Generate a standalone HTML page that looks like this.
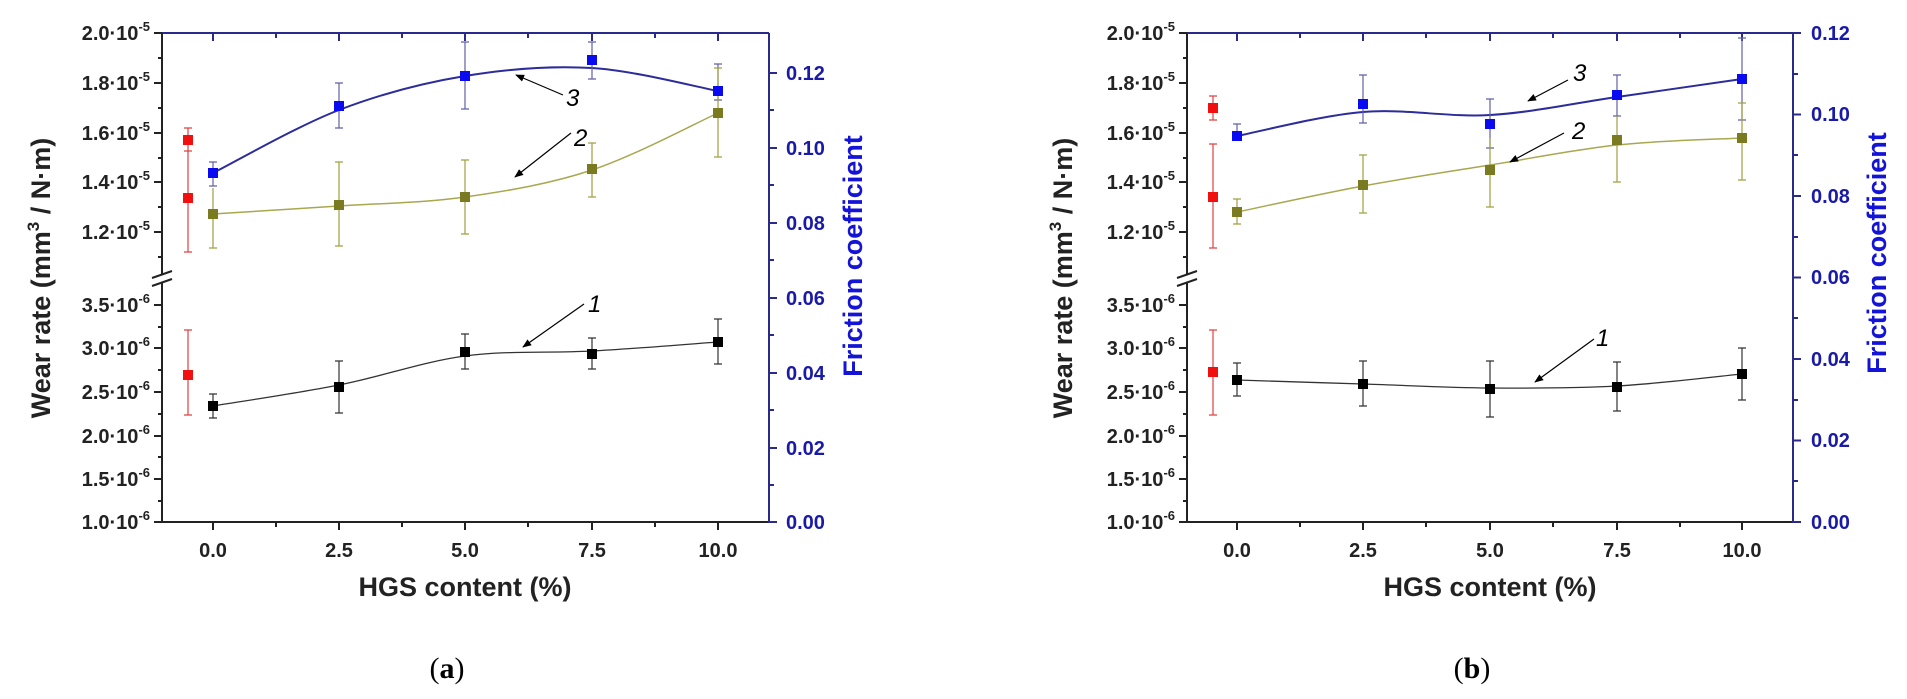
<!DOCTYPE html>
<html><head><meta charset="utf-8"><style>
html,body{margin:0;padding:0;background:#fff;width:1907px;height:699px;overflow:hidden}
svg text{font-family:"Liberation Sans",sans-serif;font-weight:bold}
</style></head><body>
<svg width="1907" height="699" viewBox="0 0 1907 699" xmlns="http://www.w3.org/2000/svg">
<defs>
<marker id="ah" viewBox="0 0 10 10" refX="9" refY="5" markerWidth="9" markerHeight="9" orient="auto-start-reverse" markerUnits="userSpaceOnUse">
<path d="M0,1 L10,5 L0,9 Z" fill="#000"/></marker>
</defs>

<!-- ================= (a) ================= -->
<g id="A">
<!-- axes -->
<line x1="162" y1="33" x2="769" y2="33" stroke="#2a2a8c" stroke-width="2"/>
<line x1="162" y1="522" x2="769" y2="522" stroke="#222" stroke-width="2"/>
<line x1="769" y1="33" x2="769" y2="523" stroke="#2a2a8c" stroke-width="2"/>
<line x1="162" y1="33" x2="162" y2="274" stroke="#222" stroke-width="2"/>
<line x1="162" y1="282" x2="162" y2="523" stroke="#222" stroke-width="2"/>
<line x1="152" y1="278" x2="172" y2="271" stroke="#222" stroke-width="2"/>
<line x1="152" y1="286" x2="172" y2="279" stroke="#222" stroke-width="2"/>
<!-- left ticks -->
<g stroke="#222" stroke-width="2">
<line x1="154" y1="33" x2="162" y2="33"/><line x1="154" y1="83" x2="162" y2="83"/><line x1="154" y1="133" x2="162" y2="133"/><line x1="154" y1="182" x2="162" y2="182"/><line x1="154" y1="232" x2="162" y2="232"/>
<line x1="158" y1="58" x2="162" y2="58"/><line x1="158" y1="108" x2="162" y2="108"/><line x1="158" y1="158" x2="162" y2="158"/><line x1="158" y1="207" x2="162" y2="207"/><line x1="158" y1="257" x2="162" y2="257"/>
<line x1="154" y1="305" x2="162" y2="305"/><line x1="154" y1="348" x2="162" y2="348"/><line x1="154" y1="392" x2="162" y2="392"/><line x1="154" y1="436" x2="162" y2="436"/><line x1="154" y1="479" x2="162" y2="479"/><line x1="154" y1="522" x2="162" y2="522"/>
<line x1="158" y1="327" x2="162" y2="327"/><line x1="158" y1="370" x2="162" y2="370"/><line x1="158" y1="414" x2="162" y2="414"/><line x1="158" y1="457" x2="162" y2="457"/><line x1="158" y1="501" x2="162" y2="501"/>
<!-- bottom ticks -->
<line x1="213" y1="522" x2="213" y2="530"/><line x1="339" y1="522" x2="339" y2="530"/><line x1="465" y1="522" x2="465" y2="530"/><line x1="592" y1="522" x2="592" y2="530"/><line x1="718" y1="522" x2="718" y2="530"/>
<line x1="276" y1="522" x2="276" y2="527"/><line x1="402" y1="522" x2="402" y2="527"/><line x1="528" y1="522" x2="528" y2="527"/><line x1="655" y1="522" x2="655" y2="527"/>
</g>
<g stroke="#2a2a8c" stroke-width="2">
<line x1="213" y1="33" x2="213" y2="41"/><line x1="339" y1="33" x2="339" y2="41"/><line x1="465" y1="33" x2="465" y2="41"/><line x1="592" y1="33" x2="592" y2="41"/><line x1="718" y1="33" x2="718" y2="41"/>
<line x1="276" y1="33" x2="276" y2="38"/><line x1="402" y1="33" x2="402" y2="38"/><line x1="528" y1="33" x2="528" y2="38"/><line x1="655" y1="33" x2="655" y2="38"/>
<line x1="769" y1="73" x2="777" y2="73"/><line x1="769" y1="148" x2="777" y2="148"/><line x1="769" y1="223" x2="777" y2="223"/><line x1="769" y1="298" x2="777" y2="298"/><line x1="769" y1="373" x2="777" y2="373"/><line x1="769" y1="448" x2="777" y2="448"/><line x1="769" y1="522" x2="777" y2="522"/>
<line x1="769" y1="110" x2="774" y2="110"/><line x1="769" y1="185" x2="774" y2="185"/><line x1="769" y1="260" x2="774" y2="260"/><line x1="769" y1="335" x2="774" y2="335"/><line x1="769" y1="410" x2="774" y2="410"/><line x1="769" y1="485" x2="774" y2="485"/>
</g>
<!-- left tick labels -->
<g font-size="20" fill="#222" text-anchor="end">
<text x="150" y="40">2.0·10<tspan font-size="13" dy="-9">-5</tspan></text>
<text x="150" y="90">1.8·10<tspan font-size="13" dy="-9">-5</tspan></text>
<text x="150" y="140">1.6·10<tspan font-size="13" dy="-9">-5</tspan></text>
<text x="150" y="189">1.4·10<tspan font-size="13" dy="-9">-5</tspan></text>
<text x="150" y="239">1.2·10<tspan font-size="13" dy="-9">-5</tspan></text>
<text x="150" y="312">3.5·10<tspan font-size="13" dy="-9">-6</tspan></text>
<text x="150" y="355">3.0·10<tspan font-size="13" dy="-9">-6</tspan></text>
<text x="150" y="399">2.5·10<tspan font-size="13" dy="-9">-6</tspan></text>
<text x="150" y="443">2.0·10<tspan font-size="13" dy="-9">-6</tspan></text>
<text x="150" y="486">1.5·10<tspan font-size="13" dy="-9">-6</tspan></text>
<text x="150" y="529">1.0·10<tspan font-size="13" dy="-9">-6</tspan></text>
</g>
<g font-size="20" fill="#1a1aa8">
<text x="786" y="80">0.12</text><text x="786" y="155">0.10</text><text x="786" y="230">0.08</text><text x="786" y="305">0.06</text><text x="786" y="380">0.04</text><text x="786" y="455">0.02</text><text x="786" y="529">0.00</text>
</g>
<g font-size="20" fill="#222" text-anchor="middle">
<text x="213" y="557">0.0</text><text x="339" y="557">2.5</text><text x="465" y="557">5.0</text><text x="592" y="557">7.5</text><text x="718" y="557">10.0</text>
</g>
<text x="465" y="596" font-size="27" text-anchor="middle" fill="#222">HGS content (%)</text>
<text transform="translate(50,278) rotate(-90)" font-size="27" text-anchor="middle" fill="#222">Wear rate (mm<tspan font-size="17" dy="-11">3</tspan><tspan dy="11"> / N·m)</tspan></text>
<text transform="translate(862,256) rotate(-90)" font-size="27" text-anchor="middle" fill="#1414d8">Friction coefficient</text>
<text x="447" y="678" font-size="30" text-anchor="middle" style="font-family:'Liberation Serif',serif;font-weight:normal" fill="#000">(<tspan font-weight="bold">a</tspan>)</text>

<!-- curves -->
<path d="M213,173 C234,162.5 297,126.2 339,110 C381,93.8 422.8,83 465,76 C507.2,69 549.8,65.5 592,68 C634.2,70.5 697,87.2 718,91" fill="none" stroke="#2c2c9a" stroke-width="2"/>
<path d="M213,214 C234,212.7 297,208.8 339,206 C381,203.2 422.8,203 465,197 C507.2,191 549.8,184 592,170 C634.2,156 697,122.5 718,113" fill="none" stroke="#a8a850" stroke-width="1.5"/>
<path d="M213,406 C234,402.5 297,393.3 339,385 C381,376.7 422.8,361.7 465,356 C507.2,350.3 549.8,353.3 592,351 C634.2,348.7 697,343.5 718,342" fill="none" stroke="#333" stroke-width="1.3"/>

<!-- error bars -->
<g stroke="#6060a8" stroke-width="1.2">
<path d="M213,162V186M209,162H217M209,186H217"/>
<path d="M339,83V128M335,83H343M335,128H343"/>
<path d="M465,42V109M461,42H469M461,109H469"/>
<path d="M592,42V79M588,42H596M588,79H596"/>
<path d="M718,64V100M714,64H722M714,100H722"/>
</g>
<g stroke="#a0a040" stroke-width="1.2">
<path d="M213,188V248M209,248H217"/>
<path d="M339,162V246M335,162H343M335,246H343"/>
<path d="M465,160V234M461,160H469M461,234H469"/>
<path d="M592,143V197M588,143H596M588,197H596"/>
<path d="M718,68V157M714,68H722M714,157H722"/>
</g>
<g stroke="#e04040" stroke-width="1.2">
<path d="M188,128V151M184,128H192M184,151H192"/>
<path d="M188,151V252M184,252H192"/>
<path d="M188,330V415M184,330H192M184,415H192"/>
</g>
<g stroke="#333" stroke-width="1.2">
<path d="M213,394V418M209,394H217M209,418H217"/>
<path d="M339,361V413M335,361H343M335,413H343"/>
<path d="M465,334V369M461,334H469M461,369H469"/>
<path d="M592,338V369M588,338H596M588,369H596"/>
<path d="M718,319V364M714,319H722M714,364H722"/>
</g>
<!-- markers -->
<g fill="#0a0af0"><rect x="208" y="168" width="10" height="10"/><rect x="334" y="101" width="10" height="10"/><rect x="460" y="71" width="10" height="10"/><rect x="587" y="55" width="10" height="10"/><rect x="713" y="86" width="10" height="10"/></g>
<g fill="#7a7a20"><rect x="208" y="209" width="10" height="10"/><rect x="334" y="200" width="10" height="10"/><rect x="460" y="192" width="10" height="10"/><rect x="587" y="164" width="10" height="10"/><rect x="713" y="108" width="10" height="10"/></g>
<g fill="#f01010"><rect x="183" y="135" width="10" height="10"/><rect x="183" y="193" width="10" height="10"/><rect x="183" y="370" width="10" height="10"/></g>
<g fill="#000"><rect x="208" y="401" width="10" height="10"/><rect x="334" y="382" width="10" height="10"/><rect x="460" y="347" width="10" height="10"/><rect x="587" y="349" width="10" height="10"/><rect x="713" y="337" width="10" height="10"/></g>
<!-- arrows -->
<g stroke="#000" stroke-width="1.2" marker-end="url(#ah)">
<line x1="563" y1="95" x2="516" y2="75"/>
<line x1="571" y1="133" x2="515" y2="177"/>
<line x1="584" y1="304" x2="523" y2="347"/>
</g>
<g font-size="24" font-style="italic" style="font-weight:normal" fill="#000">
<text x="566" y="106" style="font-weight:normal">3</text>
<text x="574" y="146" style="font-weight:normal">2</text>
<text x="588" y="312" style="font-weight:normal">1</text>
</g>
</g>

<!-- ================= (b) ================= -->
<g id="B">
<line x1="1187" y1="33" x2="1793" y2="33" stroke="#2a2a8c" stroke-width="2"/>
<line x1="1187" y1="522" x2="1793" y2="522" stroke="#222" stroke-width="2"/>
<line x1="1793" y1="33" x2="1793" y2="523" stroke="#2a2a8c" stroke-width="2"/>
<line x1="1187" y1="33" x2="1187" y2="274" stroke="#222" stroke-width="2"/>
<line x1="1187" y1="282" x2="1187" y2="523" stroke="#222" stroke-width="2"/>
<line x1="1177" y1="278" x2="1197" y2="271" stroke="#222" stroke-width="2"/>
<line x1="1177" y1="286" x2="1197" y2="279" stroke="#222" stroke-width="2"/>
<g stroke="#222" stroke-width="2">
<line x1="1179" y1="33" x2="1187" y2="33"/><line x1="1179" y1="83" x2="1187" y2="83"/><line x1="1179" y1="133" x2="1187" y2="133"/><line x1="1179" y1="182" x2="1187" y2="182"/><line x1="1179" y1="232" x2="1187" y2="232"/>
<line x1="1183" y1="58" x2="1187" y2="58"/><line x1="1183" y1="108" x2="1187" y2="108"/><line x1="1183" y1="158" x2="1187" y2="158"/><line x1="1183" y1="207" x2="1187" y2="207"/><line x1="1183" y1="257" x2="1187" y2="257"/>
<line x1="1179" y1="305" x2="1187" y2="305"/><line x1="1179" y1="348" x2="1187" y2="348"/><line x1="1179" y1="392" x2="1187" y2="392"/><line x1="1179" y1="436" x2="1187" y2="436"/><line x1="1179" y1="479" x2="1187" y2="479"/><line x1="1179" y1="522" x2="1187" y2="522"/>
<line x1="1183" y1="327" x2="1187" y2="327"/><line x1="1183" y1="370" x2="1187" y2="370"/><line x1="1183" y1="414" x2="1187" y2="414"/><line x1="1183" y1="457" x2="1187" y2="457"/><line x1="1183" y1="501" x2="1187" y2="501"/>
<line x1="1237" y1="522" x2="1237" y2="530"/><line x1="1363" y1="522" x2="1363" y2="530"/><line x1="1490" y1="522" x2="1490" y2="530"/><line x1="1617" y1="522" x2="1617" y2="530"/><line x1="1742" y1="522" x2="1742" y2="530"/>
<line x1="1300" y1="522" x2="1300" y2="527"/><line x1="1426" y1="522" x2="1426" y2="527"/><line x1="1553" y1="522" x2="1553" y2="527"/><line x1="1680" y1="522" x2="1680" y2="527"/>
</g>
<g stroke="#2a2a8c" stroke-width="2">
<line x1="1237" y1="33" x2="1237" y2="41"/><line x1="1363" y1="33" x2="1363" y2="41"/><line x1="1490" y1="33" x2="1490" y2="41"/><line x1="1617" y1="33" x2="1617" y2="41"/><line x1="1742" y1="33" x2="1742" y2="41"/>
<line x1="1300" y1="33" x2="1300" y2="38"/><line x1="1426" y1="33" x2="1426" y2="38"/><line x1="1553" y1="33" x2="1553" y2="38"/><line x1="1680" y1="33" x2="1680" y2="38"/>
<line x1="1793" y1="33" x2="1801" y2="33"/><line x1="1793" y1="114.5" x2="1801" y2="114.5"/><line x1="1793" y1="196" x2="1801" y2="196"/><line x1="1793" y1="277.5" x2="1801" y2="277.5"/><line x1="1793" y1="359" x2="1801" y2="359"/><line x1="1793" y1="440.5" x2="1801" y2="440.5"/><line x1="1793" y1="522" x2="1801" y2="522"/>
<line x1="1793" y1="74" x2="1798" y2="74"/><line x1="1793" y1="155" x2="1798" y2="155"/><line x1="1793" y1="237" x2="1798" y2="237"/><line x1="1793" y1="318" x2="1798" y2="318"/><line x1="1793" y1="400" x2="1798" y2="400"/><line x1="1793" y1="481" x2="1798" y2="481"/>
</g>
<g font-size="20" fill="#222" text-anchor="end">
<text x="1175" y="40">2.0·10<tspan font-size="13" dy="-9">-5</tspan></text>
<text x="1175" y="90">1.8·10<tspan font-size="13" dy="-9">-5</tspan></text>
<text x="1175" y="140">1.6·10<tspan font-size="13" dy="-9">-5</tspan></text>
<text x="1175" y="189">1.4·10<tspan font-size="13" dy="-9">-5</tspan></text>
<text x="1175" y="239">1.2·10<tspan font-size="13" dy="-9">-5</tspan></text>
<text x="1175" y="312">3.5·10<tspan font-size="13" dy="-9">-6</tspan></text>
<text x="1175" y="355">3.0·10<tspan font-size="13" dy="-9">-6</tspan></text>
<text x="1175" y="399">2.5·10<tspan font-size="13" dy="-9">-6</tspan></text>
<text x="1175" y="443">2.0·10<tspan font-size="13" dy="-9">-6</tspan></text>
<text x="1175" y="486">1.5·10<tspan font-size="13" dy="-9">-6</tspan></text>
<text x="1175" y="529">1.0·10<tspan font-size="13" dy="-9">-6</tspan></text>
</g>
<g font-size="20" fill="#1a1aa8">
<text x="1811" y="40">0.12</text><text x="1811" y="121">0.10</text><text x="1811" y="203">0.08</text><text x="1811" y="284">0.06</text><text x="1811" y="366">0.04</text><text x="1811" y="447">0.02</text><text x="1811" y="529">0.00</text>
</g>
<g font-size="20" fill="#222" text-anchor="middle">
<text x="1237" y="557">0.0</text><text x="1363" y="557">2.5</text><text x="1490" y="557">5.0</text><text x="1617" y="557">7.5</text><text x="1742" y="557">10.0</text>
</g>
<text x="1490" y="596" font-size="27" text-anchor="middle" fill="#222">HGS content (%)</text>
<text transform="translate(1072,278) rotate(-90)" font-size="27" text-anchor="middle" fill="#222">Wear rate (mm<tspan font-size="17" dy="-11">3</tspan><tspan dy="11"> / N·m)</tspan></text>
<text transform="translate(1886,253) rotate(-90)" font-size="27" text-anchor="middle" fill="#1414d8">Friction coefficient</text>
<text x="1472" y="678" font-size="30" text-anchor="middle" style="font-family:'Liberation Serif',serif;font-weight:normal" fill="#000">(<tspan font-weight="bold">b</tspan>)</text>

<path d="M1237,136 C1258,132 1320.8,115.5 1363,112 C1405.2,108.5 1447.7,117.5 1490,115 C1532.3,112.5 1575,103 1617,97 C1659,91 1721,82 1742,79" fill="none" stroke="#2c2c9a" stroke-width="2"/>
<path d="M1237,212 C1258,207.7 1320.8,193.8 1363,186 C1405.2,178.2 1447.7,171.8 1490,165 C1532.3,158.2 1575,149.5 1617,145 C1659,140.5 1721,139.2 1742,138" fill="none" stroke="#a8a850" stroke-width="1.5"/>
<path d="M1237,380 C1258,380.7 1320.8,382.7 1363,384 C1405.2,385.3 1447.7,387.7 1490,388 C1532.3,388.3 1575,388.3 1617,386 C1659,383.7 1721,376 1742,374" fill="none" stroke="#333" stroke-width="1.3"/>

<g stroke="#6060a8" stroke-width="1.2">
<path d="M1237,124V139M1233,124H1241M1233,139H1241"/>
<path d="M1363,75V123M1359,75H1367M1359,123H1367"/>
<path d="M1490,99V148M1486,99H1494M1486,148H1494"/>
<path d="M1617,75V116M1613,75H1621M1613,116H1621"/>
<path d="M1742,38V120M1738,38H1746M1738,120H1746"/>
</g>
<g stroke="#a0a040" stroke-width="1.2">
<path d="M1237,199V224M1233,199H1241M1233,224H1241"/>
<path d="M1363,155V213M1359,155H1367M1359,213H1367"/>
<path d="M1490,138V207M1486,207H1494"/>
<path d="M1617,116V182M1613,182H1621"/>
<path d="M1742,103V180M1738,103H1746M1738,180H1746"/>
</g>
<g stroke="#e04040" stroke-width="1.2">
<path d="M1213,96V120M1209,96H1217M1209,120H1217"/>
<path d="M1213,144V248M1209,144H1217M1209,248H1217"/>
<path d="M1213,330V415M1209,330H1217M1209,415H1217"/>
</g>
<g stroke="#333" stroke-width="1.2">
<path d="M1237,363V396M1233,363H1241M1233,396H1241"/>
<path d="M1363,361V406M1359,361H1367M1359,406H1367"/>
<path d="M1490,361V417M1486,361H1494M1486,417H1494"/>
<path d="M1617,362V411M1613,362H1621M1613,411H1621"/>
<path d="M1742,348V400M1738,348H1746M1738,400H1746"/>
</g>
<g fill="#0a0af0"><rect x="1232" y="131" width="10" height="10"/><rect x="1358" y="99" width="10" height="10"/><rect x="1485" y="119" width="10" height="10"/><rect x="1612" y="90" width="10" height="10"/><rect x="1737" y="74" width="10" height="10"/></g>
<g fill="#7a7a20"><rect x="1232" y="207" width="10" height="10"/><rect x="1358" y="180" width="10" height="10"/><rect x="1485" y="165" width="10" height="10"/><rect x="1612" y="135" width="10" height="10"/><rect x="1737" y="133" width="10" height="10"/></g>
<g fill="#f01010"><rect x="1208" y="103" width="10" height="10"/><rect x="1208" y="192" width="10" height="10"/><rect x="1208" y="367" width="10" height="10"/></g>
<g fill="#000"><rect x="1232" y="375" width="10" height="10"/><rect x="1358" y="379" width="10" height="10"/><rect x="1485" y="384" width="10" height="10"/><rect x="1612" y="382" width="10" height="10"/><rect x="1737" y="369" width="10" height="10"/></g>
<g stroke="#000" stroke-width="1.2" marker-end="url(#ah)">
<line x1="1568" y1="80" x2="1528" y2="101"/>
<line x1="1564" y1="133" x2="1510" y2="162"/>
<line x1="1594" y1="339" x2="1535" y2="382"/>
</g>
<g font-size="24" font-style="italic" fill="#000">
<text x="1573" y="81" style="font-weight:normal">3</text>
<text x="1572" y="139" style="font-weight:normal">2</text>
<text x="1596" y="346" style="font-weight:normal">1</text>
</g>
</g>
</svg>
</body></html>
